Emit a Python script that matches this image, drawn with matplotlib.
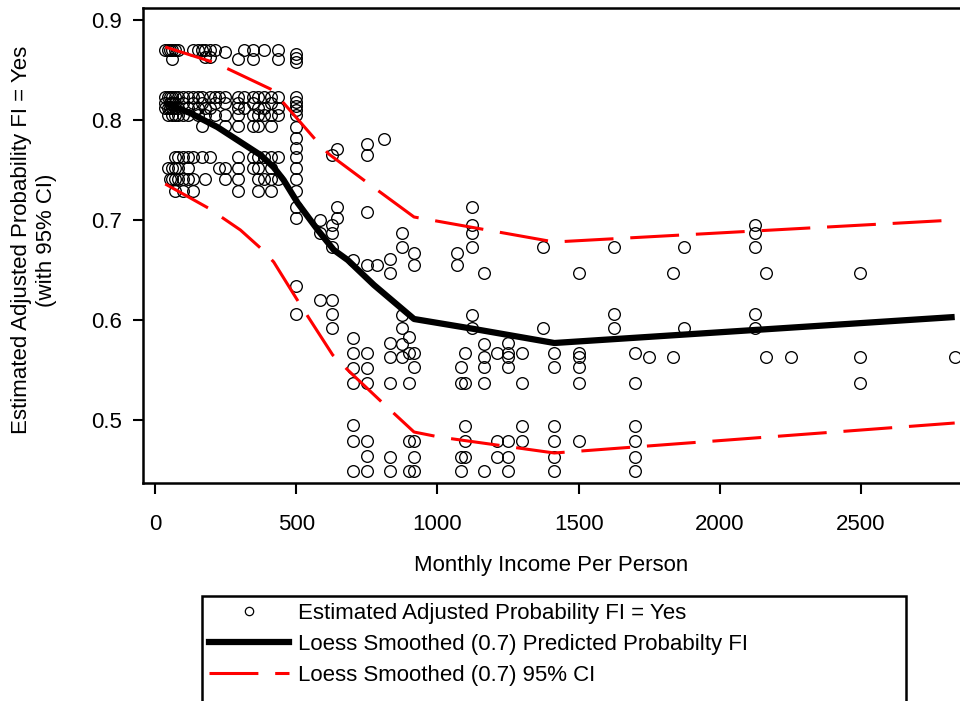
import numpy as np
import matplotlib
matplotlib.use("Agg")
import matplotlib.pyplot as plt
from matplotlib.lines import Line2D

plt.rcParams['font.family'] = ['Liberation Sans', 'DejaVu Sans']

# scatter: estimated adjusted probabilities, grouped by income value
point_cols = {
    36: [0.870, 0.823, 0.817, 0.812],
    46: [0.870, 0.823, 0.812, 0.805, 0.752],
    53: [0.870, 0.823, 0.817, 0.812, 0.741],
    60: [0.870, 0.861, 0.823, 0.817, 0.812, 0.805, 0.752, 0.741],
    71: [0.870, 0.823, 0.817, 0.812, 0.805, 0.763, 0.752, 0.741, 0.729],
    82: [0.870, 0.823, 0.812, 0.805, 0.763, 0.752, 0.741],
    100: [0.823, 0.817, 0.805, 0.763, 0.741, 0.729],
    117: [0.823, 0.812, 0.805, 0.763, 0.752, 0.741],
    135: [0.870, 0.823, 0.817, 0.763, 0.741, 0.729],
    153: [0.870, 0.823, 0.812, 0.805],
    167: [0.870, 0.823, 0.817, 0.794, 0.763],
    178: [0.870, 0.863, 0.812, 0.805, 0.741],
    195: [0.870, 0.863, 0.823, 0.812, 0.763],
    213: [0.870, 0.823, 0.817, 0.805],
    227: [0.823, 0.752],
    249: [0.868, 0.823, 0.817, 0.805, 0.794, 0.752, 0.741],
    295: [0.861, 0.823, 0.817, 0.812, 0.805, 0.794, 0.763, 0.752, 0.741, 0.729],
    313: [0.870, 0.823, 0.812],
    348: [0.870, 0.861, 0.823, 0.817, 0.805, 0.794, 0.763, 0.752],
    366: [0.823, 0.812, 0.805, 0.794, 0.763, 0.752, 0.741, 0.729],
    384: [0.870, 0.823, 0.812, 0.805, 0.763, 0.741],
    409: [0.823, 0.817, 0.805, 0.794, 0.763, 0.752, 0.741, 0.729],
    434: [0.870, 0.861, 0.823, 0.812, 0.805, 0.763, 0.741],
    500: [0.866, 0.862, 0.858, 0.823, 0.818, 0.814, 0.810, 0.805, 0.793, 0.782,
          0.772, 0.763, 0.752, 0.741, 0.729, 0.713, 0.702, 0.634, 0.606],
    583: [0.700, 0.687, 0.620],
    625: [0.765, 0.695, 0.687, 0.673, 0.620, 0.606, 0.592],
    643: [0.771, 0.713, 0.702],
    700: [0.660, 0.582, 0.567, 0.552, 0.537, 0.495, 0.479, 0.449],
    750: [0.776, 0.765, 0.708, 0.655, 0.567, 0.552, 0.537, 0.479, 0.464, 0.449],
    785: [0.655],
    810: [0.781],
    832: [0.661, 0.647, 0.577, 0.563, 0.537, 0.463, 0.449],
    874: [0.687, 0.673, 0.605, 0.592, 0.576, 0.563],
    899: [0.583, 0.567, 0.537, 0.479, 0.449],
    917: [0.667, 0.655, 0.567, 0.553, 0.479, 0.463, 0.449],
    1070: [0.667, 0.655],
    1084: [0.553, 0.537, 0.463, 0.449],
    1098: [0.567, 0.537, 0.494, 0.479, 0.463],
    1123: [0.713, 0.695, 0.687, 0.673, 0.605, 0.592],
    1166: [0.647, 0.576, 0.563, 0.553, 0.537, 0.449],
    1212: [0.567, 0.479, 0.463],
    1251: [0.577, 0.567, 0.563, 0.553, 0.479, 0.463, 0.449],
    1301: [0.567, 0.537, 0.494, 0.479],
    1375: [0.673, 0.592],
    1414: [0.567, 0.553, 0.494, 0.479, 0.463, 0.449],
    1500: [0.647, 0.567, 0.563, 0.553, 0.537, 0.479],
    1624: [0.673, 0.606, 0.592],
    1699: [0.567, 0.537, 0.494, 0.479, 0.463, 0.449],
    1748: [0.563],
    1834: [0.647, 0.563],
    1873: [0.673, 0.592],
    2125: [0.695, 0.687, 0.673, 0.606, 0.592],
    2164: [0.647, 0.563],
    2253: [0.563],
    2498: [0.647, 0.563, 0.537],
    2832: [0.563],
}

# loess smoothed predicted probability
fit_x = [36, 124, 220, 302, 373, 419, 455, 505, 576, 633, 682, 775, 917, 1130, 1414, 2832]
fit_y = [0.817, 0.807, 0.793, 0.778, 0.765, 0.753, 0.740, 0.717, 0.690, 0.670,
         0.660, 0.635, 0.601, 0.591, 0.577, 0.603]

# 95% CI bounds
up_x = [36, 203, 259, 416, 455, 569, 615, 753, 917, 1414, 2832]
up_y = [0.873, 0.858, 0.851, 0.830, 0.817, 0.780, 0.766, 0.737, 0.703, 0.678, 0.700]
lo_x = [36, 188, 302, 373, 420, 508, 629, 686, 810, 917, 1006, 1414, 2832]
lo_y = [0.736, 0.712, 0.690, 0.672, 0.658, 0.618, 0.565, 0.549, 0.516, 0.488,
        0.483, 0.467, 0.497]

px = []
py = []
for k, vals in point_cols.items():
    px += [k] * len(vals)
    py += vals

fig = plt.figure(figsize=(9.6, 7.01), dpi=100)
ax = fig.add_axes([143/960, 1 - 483/701, 1.003 - 143/960, (483 - 8)/701])

ax.plot(px, py, 'o', ms=8.4, mfc='none', mec='black', mew=0.95, zorder=2)
ax.plot(fit_x, fit_y, color='black', lw=4.5, solid_capstyle='butt', zorder=3)
ax.plot(up_x, up_y, color='#ff0000', lw=2.2, dashes=(16, 5.5), zorder=4)
ax.plot(lo_x, lo_y, color='#ff0000', lw=2.2, dashes=(16, 5.5), zorder=4)

ax.set_xlim(-43, 2861)
ax.set_ylim(0.437, 0.912)
ax.set_xticks([0, 500, 1000, 1500, 2000, 2500])
ax.set_yticks([0.5, 0.6, 0.7, 0.8, 0.9])
ax.set_yticklabels(['0.5', '0.6', '0.7', '0.8', '0.9'])
ax.tick_params(axis='x', length=8, width=1.5, pad=14, labelsize=16)
ax.tick_params(axis='y', length=7, width=1.5, pad=8, labelsize=16)
for s in ax.spines.values():
    s.set_linewidth(1.8)

fig.text(551/960, 1 - 565/701, 'Monthly Income Per Person', ha='center', va='center', fontsize=16)
fig.text(34/960, 1 - 240/701, 'Estimated Adjusted Probability FI = Yes\n(with 95% CI)',
         ha='center', va='center', rotation=90, fontsize=16, multialignment='center',
         linespacing=1.3)

handles = [
    Line2D([], [], ls='none', marker='o', ms=6, mfc='none', mec='black', mew=0.9),
    Line2D([], [], color='black', lw=4.5),
    Line2D([], [], color='#ff0000', lw=2.2, dashes=(16, 5.5)),
    Line2D([], [], ls='none'),
]
labels = ['Estimated Adjusted Probability FI = Yes',
          'Loess Smoothed (0.7) Predicted Probabilty FI',
          'Loess Smoothed (0.7) 95% CI', ' ']
leg = fig.legend(handles, labels, loc='upper left',
                 bbox_to_anchor=(202/960, 1 - 596/701, (906 - 202)/960, 0.0),
                 mode='expand', borderaxespad=0, fontsize=16, frameon=True,
                 fancybox=False, edgecolor='black', framealpha=1,
                 handlelength=3.6, handletextpad=0.4, labelspacing=0.45,
                 borderpad=0.3)
leg.get_frame().set_linewidth(1.8)

fig.savefig('out.png', dpi=100)
